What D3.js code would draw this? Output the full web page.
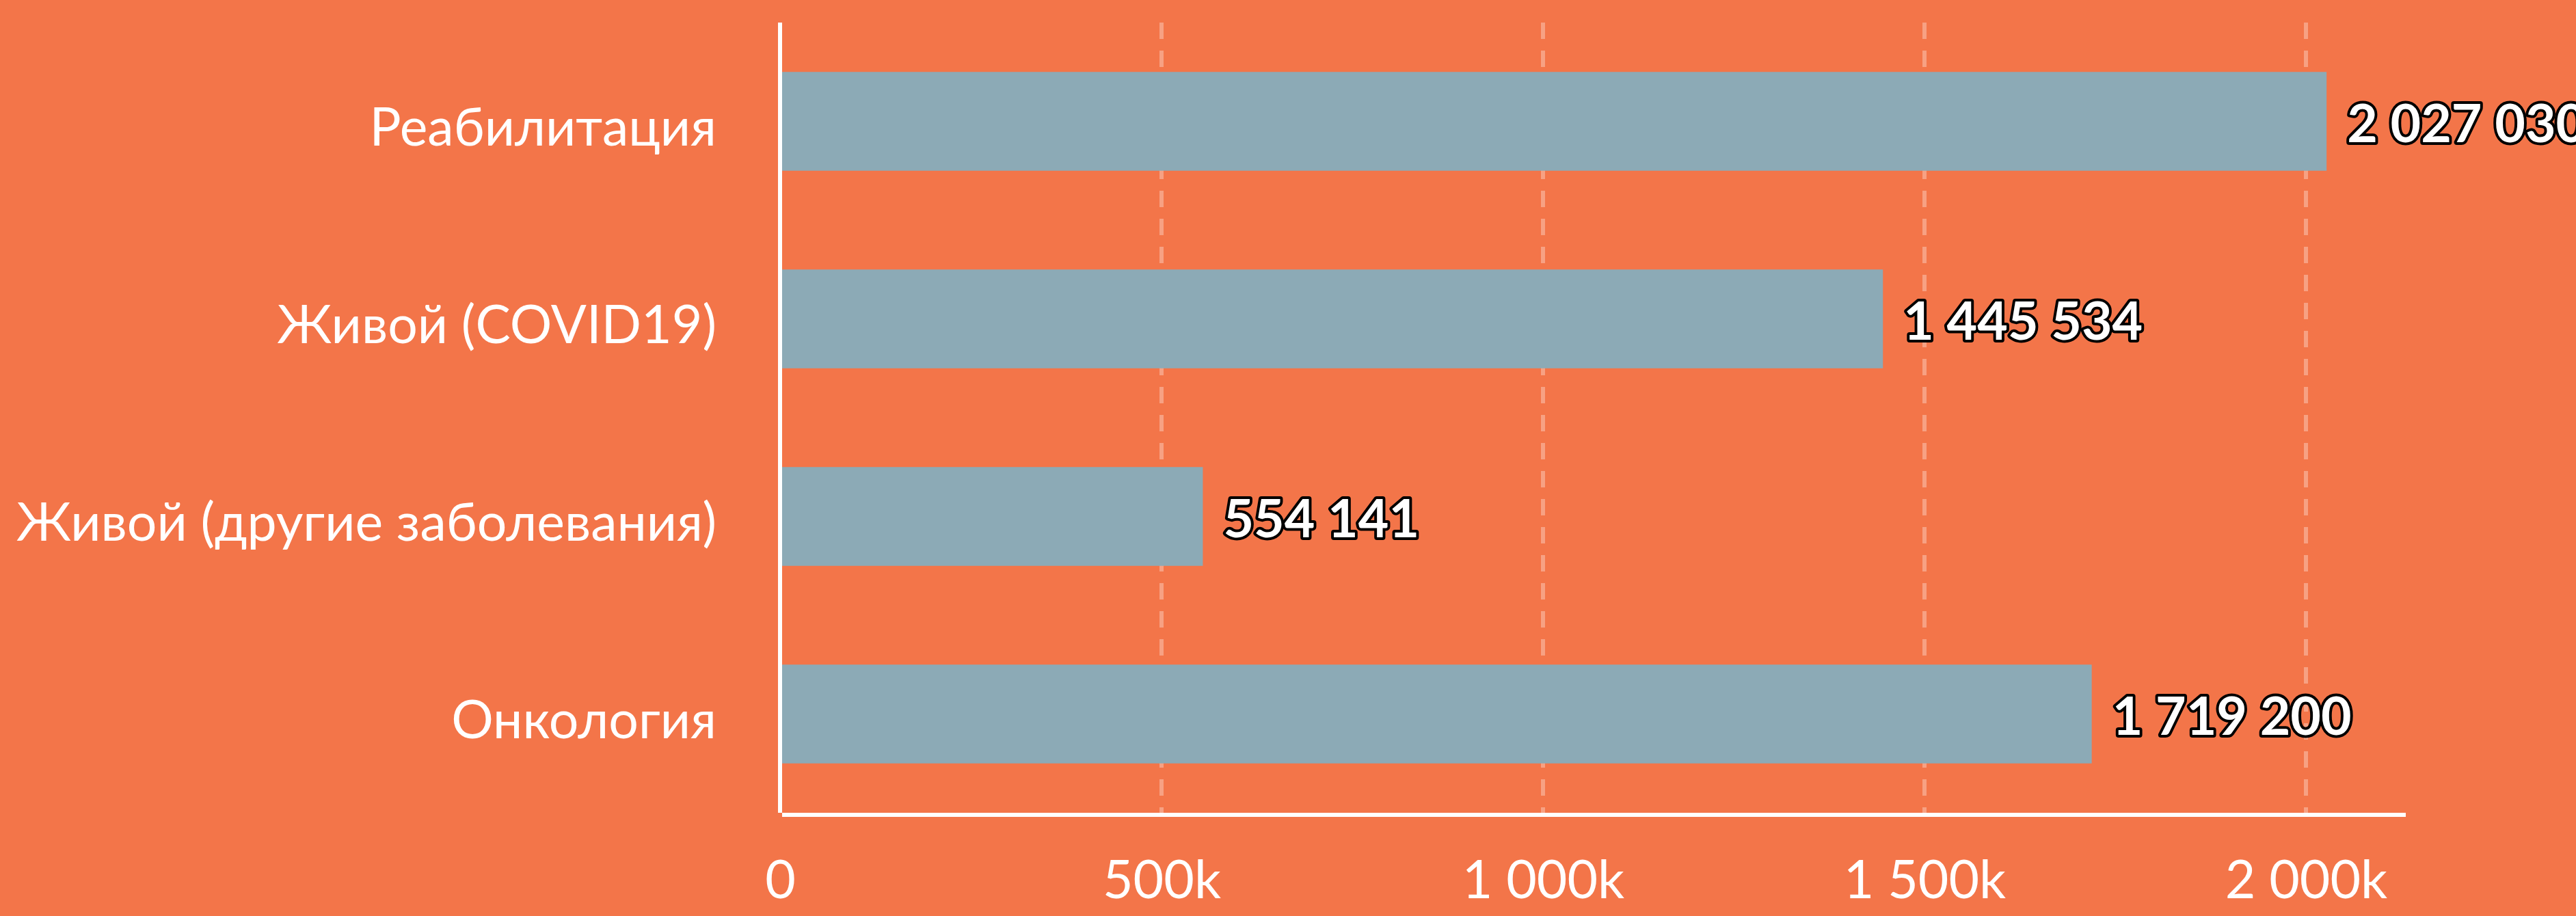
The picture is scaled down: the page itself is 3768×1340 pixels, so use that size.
<!DOCTYPE html>
<html>
<head>
<meta charset="utf-8">
<script src="https://cdn.jsdelivr.net/npm/d3@7"></script>
<style>
html,body{margin:0;padding:0;background:#F37549;}
svg{display:block;}
text{font-family:Lato,"Noto Sans",sans-serif;}
</style>
</head>
<body>
<svg id="chart" width="3768" height="1340"></svg>
<script>
const categories = ["Реабилитация", "Живой (COVID19)", "Живой (другие заболевания)", "Онкология"];
const values = [2027030, 1445534, 554141, 1719200];
const tickValues = [0, 500000, 1000000, 1500000, 2000000];

const W = 3768, H = 1340;
const svg = d3.select("#chart");
svg.append("rect").attr("width", W).attr("height", H).attr("fill", "#F37549");

const loc = d3.formatLocale({decimal: ",", thousands: "\u00a0", grouping: [3], currency: ["", ""]});
const fmtInt = loc.format(",d");
const fmtK = v => v === 0 ? "0" : fmtInt(v / 1000) + "k";

const x = d3.scaleLinear().domain([0, 2000000]).range([1141, 3373]);
const y = d3.scaleBand().domain(categories).range([33, 1189]).paddingInner(0.5).paddingOuter(0.25);

// grid
svg.append("g").selectAll("line").data(tickValues.slice(1)).join("line")
  .attr("x1", d => x(d)).attr("x2", d => x(d))
  .attr("y1", 33).attr("y2", 1189)
  .attr("stroke", "rgba(255,255,255,0.32)").attr("stroke-width", 6)
  .attr("stroke-dasharray", "24,17");

// bars
svg.append("g").selectAll("rect").data(values).join("rect")
  .attr("x", x(0) + 3)
  .attr("y", (d, i) => y(categories[i]))
  .attr("width", d => x(d) - x(0) - 3)
  .attr("height", y.bandwidth())
  .attr("fill", "#8CAAB6");

// axes lines
svg.append("line").attr("x1", 1141).attr("x2", 1141).attr("y1", 33).attr("y2", 1189)
  .attr("stroke", "#fff").attr("stroke-width", 6);
svg.append("line").attr("x1", 1144).attr("x2", 3519).attr("y1", 1192).attr("y2", 1192)
  .attr("stroke", "#fff").attr("stroke-width", 6);

// x tick labels
const xAxis = d3.axisBottom(x).tickValues(tickValues).tickFormat(fmtK).tickSize(0).tickPadding(0);
const gx = svg.append("g").attr("transform", "translate(0,1314)").call(xAxis);
gx.select(".domain").remove();
gx.selectAll("text").attr("dy", 0).attr("fill", "#fff").attr("font-size", 77)
  .attr("font-family", "Lato, 'Noto Sans', sans-serif");

// y category labels
const yAxis = d3.axisLeft(y).tickSize(0).tickPadding(0);
const gy = svg.append("g").attr("transform", "translate(1048,0)").call(yAxis);
gy.select(".domain").remove();
gy.selectAll("text").attr("dy", 0).attr("y", 35).attr("fill", "#fff").attr("font-size", 77)
  .attr("font-family", "Lato, 'Noto Sans', sans-serif");

// value labels
svg.append("g").selectAll("text").data(values).join("text")
  .attr("x", d => x(d) + 30)
  .attr("y", (d, i) => y(categories[i]) + y.bandwidth() / 2 + 30)
  .attr("fill", "#fff").attr("stroke", "#000").attr("stroke-width", 8)
  .attr("stroke-linejoin", "round").attr("paint-order", "stroke")
  .attr("font-size", 77).attr("font-weight", 700)
  .text(d => fmtInt(d));
</script>
</body>
</html>
